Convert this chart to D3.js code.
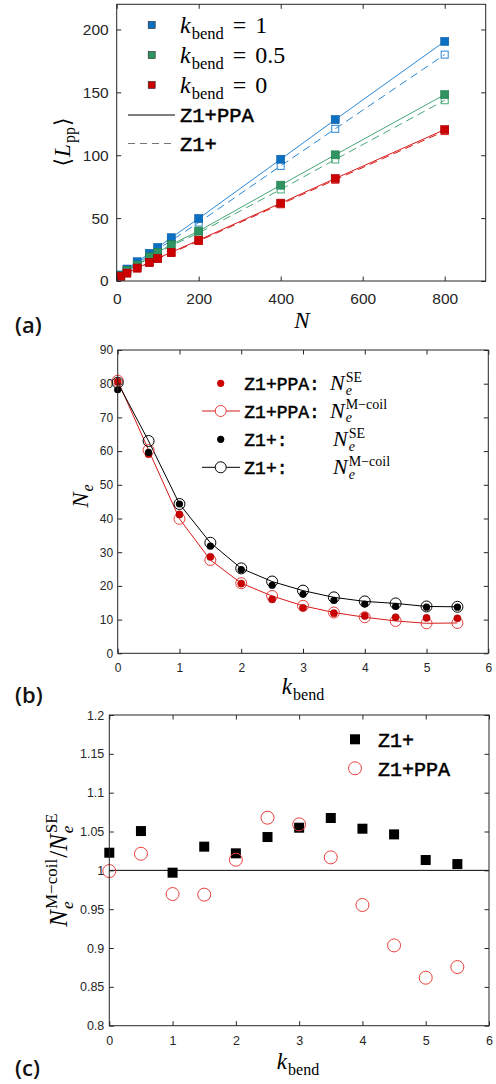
<!DOCTYPE html>
<html>
<head>
<meta charset="utf-8">
<script src="https://cdn.jsdelivr.net/npm/d3@7"></script>
<style>html,body{margin:0;padding:0;background:#fff}</style>
</head>
<body>
<svg id="fig" width="496" height="1084"></svg>
<script>
// ---------- data ----------
// (a) mean primitive path length vs chain length
const chainN = [10, 25, 50, 80, 100, 133, 200, 400, 533, 800];
const lppK1PPA  = [4.8, 9.5, 15.3, 22.0, 26.7, 34.4, 49.7, 96.8, 128.3, 190.5];
const lppK1Z1   = [4.5, 9.0, 14.2, 20.5, 25.0, 32.2, 46.5, 91.5, 121.0, 180.0];
const lppK05PPA = [4.2, 8.5, 12.7, 19.3, 22.8, 29.0, 39.7, 76.2, 100.3, 148.2];
const lppK05Z1  = [4.0, 8.2, 12.3, 18.5, 22.0, 28.0, 38.2, 72.8, 96.6, 143.7];
const lppK0PPA  = [3.8, 6.3, 10.3, 14.8, 18.0, 22.8, 32.5, 61.9, 81.5, 120.4];
const lppK0Z1   = [3.6, 6.1, 10.0, 14.5, 17.7, 22.3, 31.8, 61.0, 80.5, 119.2];
const xTicksA = [0, 200, 400, 600, 800];
const yTicksA = [0, 50, 100, 150, 200];

// (b) entanglement length vs bending stiffness
const kBend = [0, 0.5, 1, 1.5, 2, 2.5, 3, 3.5, 4, 4.5, 5, 5.5];
const neSE_PPA    = [80.6, 59.1, 41.2, 28.6, 20.7, 16.0, 13.5, 11.9, 11.1, 10.7, 10.5, 10.4];
const neMcoil_PPA = [80.9, 60.3, 39.9, 27.7, 20.8, 17.0, 14.1, 12.1, 10.7, 9.6, 8.9, 9.0];
const neSE_Z1     = [78.2, 59.6, 44.3, 31.8, 24.8, 20.2, 17.5, 15.7, 14.6, 13.9, 13.7, 13.7];
const neMcoil_Z1  = [80.3, 63.0, 44.3, 32.8, 25.2, 21.3, 18.6, 16.6, 15.4, 14.8, 13.9, 13.8];
const xTicksB = [0, 1, 2, 3, 4, 5, 6];
const yTicksB = [0, 10, 20, 30, 40, 50, 60, 70, 80, 90];

// (c) ratio of the two estimates
const ratioZ1  = [1.0227, 1.0506, 0.997, 1.0305, 1.0219, 1.0429, 1.0549, 1.0674, 1.0536, 1.0463, 1.0133, 1.0081];
const ratioPPA = [0.9991, 1.0214, 0.9695, 0.9687, 1.0137, 1.0678, 1.0592, 1.0167, 0.9554, 0.9034, 0.8618, 0.8755];
const xTicksC = [0, 1, 2, 3, 4, 5, 6];
const yTicksC = [0.8, 0.85, 0.9, 0.95, 1, 1.05, 1.1, 1.15, 1.2];
const yTickLabelsC = ["0.8", "0.85", "0.9", "0.95", "1", "1.05", "1.1", "1.15", "1.2"];

// ---------- style ----------
const SERIF = "'Liberation Serif','DejaVu Serif',serif";
const MONO = "'Liberation Mono','Courier New','DejaVu Sans Mono',monospace";
const SANS = "'Liberation Sans','DejaVu Sans',Arial,sans-serif";
const AX = "#262626";

const svg = d3.select("#fig");
svg.append("rect").attr("width", 496).attr("height", 1084).attr("fill", "#fff");

// sequential math text; "stack" pieces share the start of the previous piece
function mathLabel(parent, pieces, anchor) {
  const g = parent.append("g");
  let cursor = 0, lastStart = 0;
  pieces.forEach(p => {
    const start = p.stack ? lastStart : cursor + (p.gap || 0);
    const t = g.append("text")
      .attr("x", start).attr("y", p.dy || 0)
      .attr("font-family", p.font || SERIF)
      .attr("font-size", p.size)
      .attr("font-style", p.italic ? "italic" : "normal")
      .attr("fill", "#000")
      .text(p.text);
    const w = t.node().getComputedTextLength();
    lastStart = start;
    cursor = Math.max(cursor, start + w + (p.after || 0));
  });
  if (anchor === "middle") {
    g.selectAll("text").attr("x", function () { return +this.getAttribute("x") - cursor / 2; });
  }
  return g;
}

function kbendPieces(big, small) {
  return [
    { text: "k", italic: true, size: big, after: 1 },
    { text: "bend", size: small, dy: big * 0.25 }
  ];
}

// typewriter-style label text, slightly thickened
function monoText(parent, x, y, size, text) {
  return parent.append("text").attr("x", x).attr("y", y).attr("font-family", MONO)
    .attr("font-size", size).attr("fill", "#000")
    .attr("stroke", "#000").attr("stroke-width", 0.5).text(text);
}

function frame(g, x, y, box, o) {
  const tl = 4.5;
  const axes = [];
  axes.push(g.append("g").attr("transform", `translate(0,${box.b})`)
    .call(d3.axisBottom(x).tickValues(o.xt).tickFormat(o.xf || d3.format("d"))
      .tickSizeInner(-tl).tickSizeOuter(0).tickPadding(o.xpad)));
  axes.push(g.append("g").attr("transform", `translate(0,${box.t})`)
    .call(d3.axisTop(x).tickValues(o.xt).tickFormat("").tickSizeInner(-tl).tickSizeOuter(0)));
  axes.push(g.append("g").attr("transform", `translate(${box.l},0)`)
    .call(d3.axisLeft(y).tickValues(o.yt).tickFormat(o.yf || d3.format("d"))
      .tickSizeInner(-tl).tickSizeOuter(0).tickPadding(o.ypad)));
  axes.push(g.append("g").attr("transform", `translate(${box.r},0)`)
    .call(d3.axisRight(y).tickValues(o.yt).tickFormat("").tickSizeInner(-tl).tickSizeOuter(0)));
  axes.forEach(a => {
    a.select(".domain").remove();
    a.attr("font-family", SANS).attr("font-size", o.fs);
    a.selectAll("line").attr("stroke", AX);
    a.selectAll("text").attr("fill", AX);
  });
  g.append("rect").attr("x", box.l).attr("y", box.t)
    .attr("width", box.r - box.l).attr("height", box.b - box.t)
    .attr("fill", "none").attr("stroke", AX).attr("stroke-width", 1);
}

function panelTag(text, x, y) {
  svg.append("text").attr("x", x).attr("y", y)
    .attr("font-family", "'Open Sans','Noto Sans',sans-serif").attr("font-weight", 600)
    .attr("font-size", 22).attr("fill", "#111").text(text);
}

// ---------- (a) ----------
{
  const box = { l: 116.7, r: 485.7, t: 4.3, b: 281 };
  const x = d3.scaleLinear().domain([0, 900]).range([box.l, box.r]);
  const y = d3.scaleLinear().domain([0, 220]).range([box.b, box.t]);
  const g = svg.append("g");
  const series = [
    { ppa: lppK1PPA, z1: lppK1Z1, mark: "#0b6fc2", edge: "#075aa0", line: "#2a88d6" },
    { ppa: lppK05PPA, z1: lppK05Z1, mark: "#2f9462", edge: "#1f7a4c", line: "#45a877" },
    { ppa: lppK0PPA, z1: lppK0Z1, mark: "#cc0000", edge: "#a80000", line: "#d81a1a" }
  ];
  const line = d3.line().x(d => x(d[0])).y(d => y(d[1]));
  const s = 8, so = 7;
  series.forEach(sr => {
    g.append("path").datum(d3.zip(chainN, sr.ppa)).attr("d", line)
      .attr("fill", "none").attr("stroke", sr.line).attr("stroke-width", 1);
    g.append("path").datum(d3.zip(chainN, sr.z1)).attr("d", line)
      .attr("fill", "none").attr("stroke", sr.line).attr("stroke-width", 1)
      .attr("stroke-dasharray", "8,5");
    g.selectAll(null).data(d3.zip(chainN, sr.z1)).join("rect")
      .attr("x", d => x(d[0]) - so / 2).attr("y", d => y(d[1]) - so / 2)
      .attr("width", so).attr("height", so)
      .attr("fill", "none").attr("stroke", sr.line).attr("stroke-width", 1);
    g.selectAll(null).data(d3.zip(chainN, sr.ppa)).join("rect")
      .attr("x", d => x(d[0]) - s / 2).attr("y", d => y(d[1]) - s / 2)
      .attr("width", s).attr("height", s)
      .attr("fill", sr.mark).attr("stroke", sr.edge).attr("stroke-width", 0.6);
  });
  frame(g, x, y, box, { xt: xTicksA, yt: yTicksA, xpad: 12, ypad: 8, fs: 15.5 });

  // legend
  const lg = svg.append("g");
  const kLabels = ["1", "0.5", "0"];
  series.forEach((sr, i) => {
    const cy = 25 + i * 30;
    lg.append("rect").attr("x", 151.7 - 3.5).attr("y", cy - 3.5).attr("width", 7).attr("height", 7)
      .attr("fill", sr.mark).attr("stroke", "#222").attr("stroke-width", 0.6);
    mathLabel(lg, [
      { text: "k", italic: true, size: 24, after: 1 },
      { text: "bend", size: 16.5, dy: 6 },
      { text: "=", size: 24, gap: 9 },
      { text: kLabels[i], size: 24, gap: 9 }
    ], "start").attr("transform", `translate(180,${cy + 7.5})`);
  });
  lg.append("line").attr("x1", 128).attr("x2", 175).attr("y1", 115).attr("y2", 115)
    .attr("stroke", "#000").attr("stroke-width", 1);
  lg.append("line").attr("x1", 128).attr("x2", 175).attr("y1", 143.5).attr("y2", 143.5)
    .attr("stroke", "#777").attr("stroke-width", 1).attr("stroke-dasharray", "7,5");
  monoText(lg, 180, 122, 20.5, "Z1+PPA");
  monoText(lg, 180, 150.5, 20.5, "Z1+");

  // axis labels
  mathLabel(svg, [{ text: "N", italic: true, size: 23 }], "middle").attr("transform", "translate(302,328)");
  mathLabel(svg, [
    { text: "\u27E8", size: 22, font: "'DejaVu Serif',serif", after: 1 },
    { text: "L", italic: true, size: 23, after: 1 },
    { text: "pp", size: 16, dy: 5 },
    { text: "\u27E9", size: 22, font: "'DejaVu Serif',serif", gap: 1 }
  ], "middle").attr("transform", "translate(70,142) rotate(-90)");
  panelTag("(a)", 15, 333);
}

// ---------- (b) ----------
{
  const box = { l: 117.7, r: 488.3, t: 350, b: 653.3 };
  const x = d3.scaleLinear().domain([0, 6]).range([box.l, box.r]);
  const y = d3.scaleLinear().domain([0, 90]).range([box.b, box.t]);
  const g = svg.append("g");
  const line = d3.line().x(d => x(d[0])).y(d => y(d[1]));
  const RED = "#cc0000", RED_LINE = "#d81a1a", RED_OPEN = "#e8403c";
  g.append("path").datum(d3.zip(kBend, neMcoil_PPA)).attr("d", line)
    .attr("fill", "none").attr("stroke", RED_LINE).attr("stroke-width", 1);
  g.append("path").datum(d3.zip(kBend, neMcoil_Z1)).attr("d", line)
    .attr("fill", "none").attr("stroke", "#000").attr("stroke-width", 1);
  const ro = 5.5, rf = 3.6;
  g.selectAll(null).data(d3.zip(kBend, neMcoil_PPA)).join("circle")
    .attr("cx", d => x(d[0])).attr("cy", d => y(d[1])).attr("r", ro)
    .attr("fill", "none").attr("stroke", RED_OPEN).attr("stroke-width", 1);
  g.selectAll(null).data(d3.zip(kBend, neMcoil_Z1)).join("circle")
    .attr("cx", d => x(d[0])).attr("cy", d => y(d[1])).attr("r", ro)
    .attr("fill", "none").attr("stroke", "#000").attr("stroke-width", 1);
  g.selectAll(null).data(d3.zip(kBend, neSE_PPA)).join("circle")
    .attr("cx", d => x(d[0])).attr("cy", d => y(d[1])).attr("r", rf)
    .attr("fill", RED).attr("stroke", "#990000").attr("stroke-width", 0.5);
  g.selectAll(null).data(d3.zip(kBend, neSE_Z1)).join("circle")
    .attr("cx", d => x(d[0])).attr("cy", d => y(d[1])).attr("r", rf)
    .attr("fill", "#000");
  frame(g, x, y, box, { xt: xTicksB, yt: yTicksB, xpad: 10, ypad: 4.5, fs: 12 });

  // legend
  const lg = svg.append("g");
  const rows = [
    { cy: 383.3, label: "Z1+PPA:", open: false, col: RED, sup: "SE", nx: 330 },
    { cy: 411, label: "Z1+PPA:", open: true, col: RED_OPEN, line: RED_LINE, sup: "M\u2212coil", nx: 330 },
    { cy: 439.3, label: "Z1+:", open: false, col: "#000", sup: "SE", nx: 333 },
    { cy: 467.3, label: "Z1+:", open: true, col: "#000", line: "#000", sup: "M\u2212coil", nx: 333 }
  ];
  rows.forEach(r => {
    if (r.open) {
      lg.append("line").attr("x1", 202).attr("x2", 240).attr("y1", r.cy).attr("y2", r.cy)
        .attr("stroke", r.line).attr("stroke-width", 1);
      lg.append("circle").attr("cx", 220.7).attr("cy", r.cy).attr("r", ro)
        .attr("fill", "#fff").attr("stroke", r.col).attr("stroke-width", 1);
    } else {
      lg.append("circle").attr("cx", 220.7).attr("cy", r.cy).attr("r", rf).attr("fill", r.col);
    }
    monoText(lg, 244.3, r.cy + 6.7, 18, r.label);
    mathLabel(lg, [
      { text: "N", italic: true, size: 22, after: 1 },
      { text: "e", italic: true, size: 14, dy: 4.5 },
      { text: r.sup, size: 14, dy: -8.5, stack: true }
    ], "start").attr("transform", `translate(${r.nx},${r.cy + 6.7})`);
  });

  mathLabel(svg, kbendPieces(23, 16), "middle").attr("transform", "translate(303,694)");
  mathLabel(svg, [
    { text: "N", italic: true, size: 23, after: 1 },
    { text: "e", italic: true, size: 16, dy: 5 }
  ], "middle").attr("transform", "translate(88,496) rotate(-90)");
  panelTag("(b)", 15, 703);
}

// ---------- (c) ----------
{
  const box = { l: 109.3, r: 489, t: 715, b: 1025.7 };
  const x = d3.scaleLinear().domain([0, 6]).range([box.l, box.r]);
  const y = d3.scaleLinear().domain([0.8, 1.2]).range([box.b, box.t]);
  const g = svg.append("g");
  g.append("line").attr("x1", x(0)).attr("x2", x(6)).attr("y1", y(1)).attr("y2", y(1))
    .attr("stroke", "#000").attr("stroke-width", 1);
  const s = 10, r = 6.5;
  const RED_OPEN = "#e8403c";
  g.selectAll(null).data(d3.zip(kBend, ratioZ1)).join("rect")
    .attr("x", d => x(d[0]) - s / 2).attr("y", d => y(d[1]) - s / 2)
    .attr("width", s).attr("height", s).attr("fill", "#000");
  g.selectAll(null).data(d3.zip(kBend, ratioPPA)).join("circle")
    .attr("cx", d => x(d[0])).attr("cy", d => y(d[1])).attr("r", r)
    .attr("fill", "none").attr("stroke", RED_OPEN).attr("stroke-width", 1);
  frame(g, x, y, box, {
    xt: xTicksC, yt: yTicksC, xpad: 10, ypad: 5, fs: 12.5,
    yf: v => yTickLabelsC[yTicksC.indexOf(v)]
  });

  const lg = svg.append("g");
  lg.append("rect").attr("x", 355 - s / 2).attr("y", 739.3 - s / 2).attr("width", s).attr("height", s).attr("fill", "#000");
  lg.append("circle").attr("cx", 355).attr("cy", 768.3).attr("r", r)
    .attr("fill", "none").attr("stroke", RED_OPEN).attr("stroke-width", 1);
  monoText(lg, 378, 746.5, 20, "Z1+");
  monoText(lg, 378, 775.5, 20, "Z1+PPA");

  mathLabel(svg, kbendPieces(23, 16), "middle").attr("transform", "translate(298,1069)");
  mathLabel(svg, [
    { text: "N", italic: true, size: 25, after: 1 },
    { text: "e", italic: true, size: 17, dy: 6 },
    { text: "M\u2212coil", size: 17, dy: -10, stack: true, after: 1 },
    { text: "/", size: 25 },
    { text: "N", italic: true, size: 25, after: 1 },
    { text: "e", italic: true, size: 17, dy: 6 },
    { text: "SE", size: 17, dy: -10, stack: true }
  ], "middle").attr("transform", "translate(67,870) rotate(-90)");
  panelTag("(c)", 15, 1076);
}
</script>
</body>
</html>
